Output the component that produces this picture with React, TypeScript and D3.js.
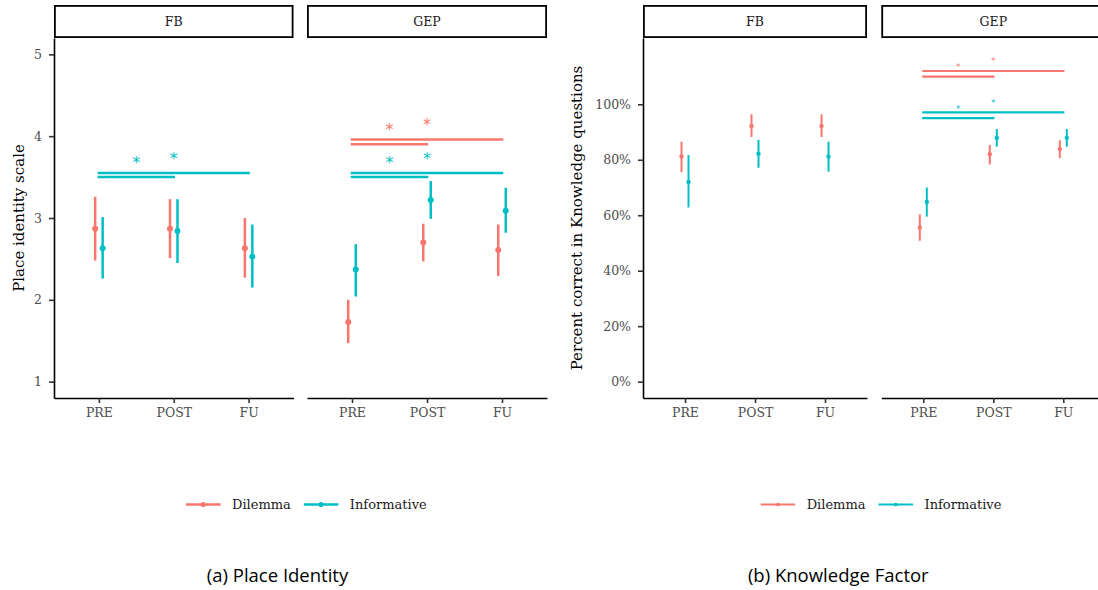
import React, { useEffect, useRef } from 'react';
import * as d3 from 'd3';

const timepoints = ['PRE', 'POST', 'FU'];
const facets = ['FB', 'GEP'];
const conditions = ['Dilemma', 'Informative'];
const conditionColors = ['#F8766D', '#00BFC4'];

// (a) Place identity -- mean and interval per timepoint
const pidTicks = [1, 2, 3, 4, 5];
const pidFbDilemmaMean = [2.87, 2.87, 2.63];
const pidFbDilemmaLow = [2.48, 2.51, 2.27];
const pidFbDilemmaHigh = [3.26, 3.23, 3.0];
const pidFbInformMean = [2.63, 2.84, 2.53];
const pidFbInformLow = [2.26, 2.45, 2.15];
const pidFbInformHigh = [3.01, 3.23, 2.92];
const pidGepDilemmaMean = [1.73, 2.7, 2.61];
const pidGepDilemmaLow = [1.47, 2.47, 2.29];
const pidGepDilemmaHigh = [2.0, 2.93, 2.92];
const pidGepInformMean = [2.37, 3.22, 3.09];
const pidGepInformLow = [2.04, 2.99, 2.82];
const pidGepInformHigh = [2.68, 3.45, 3.37];
// significance bars: facet, condition, from, to, y
const pidSignif = [
  ['FB', 'Informative', 'PRE', 'POST', 3.5],
  ['FB', 'Informative', 'PRE', 'FU', 3.55],
  ['GEP', 'Dilemma', 'PRE', 'POST', 3.9],
  ['GEP', 'Dilemma', 'PRE', 'FU', 3.96],
  ['GEP', 'Informative', 'PRE', 'POST', 3.5],
  ['GEP', 'Informative', 'PRE', 'FU', 3.55],
];

// (b) Knowledge factor -- share correct
const kfTicks = [0, 0.2, 0.4, 0.6, 0.8, 1];
const kfFbDilemmaMean = [0.812, 0.922, 0.922];
const kfFbDilemmaLow = [0.755, 0.882, 0.882];
const kfFbDilemmaHigh = [0.865, 0.964, 0.964];
const kfFbInformMean = [0.72, 0.822, 0.812];
const kfFbInformLow = [0.628, 0.771, 0.757];
const kfFbInformHigh = [0.817, 0.872, 0.865];
const kfGepDilemmaMean = [0.556, 0.82, 0.839];
const kfGepDilemmaLow = [0.508, 0.783, 0.806];
const kfGepDilemmaHigh = [0.603, 0.853, 0.87];
const kfGepInformMean = [0.648, 0.879, 0.879];
const kfGepInformLow = [0.595, 0.847, 0.847];
const kfGepInformHigh = [0.7, 0.911, 0.911];
const kfSignif = [
  ['GEP', 'Dilemma', 'PRE', 'POST', 1.1],
  ['GEP', 'Dilemma', 'PRE', 'FU', 1.12],
  ['GEP', 'Informative', 'PRE', 'POST', 0.95],
  ['GEP', 'Informative', 'PRE', 'FU', 0.971],
];

const serif = '"DejaVu Serif", serif';
const sans = '"DejaVu Sans", sans-serif';

const toRows = (facet, condition, mean, low, high) =>
  timepoints.map((t, i) => ({ facet, condition, time: t, mean: mean[i], low: low[i], high: high[i] }));

const pidRows = [
  ...toRows('FB', 'Dilemma', pidFbDilemmaMean, pidFbDilemmaLow, pidFbDilemmaHigh),
  ...toRows('FB', 'Informative', pidFbInformMean, pidFbInformLow, pidFbInformHigh),
  ...toRows('GEP', 'Dilemma', pidGepDilemmaMean, pidGepDilemmaLow, pidGepDilemmaHigh),
  ...toRows('GEP', 'Informative', pidGepInformMean, pidGepInformLow, pidGepInformHigh),
];
const kfRows = [
  ...toRows('FB', 'Dilemma', kfFbDilemmaMean, kfFbDilemmaLow, kfFbDilemmaHigh),
  ...toRows('FB', 'Informative', kfFbInformMean, kfFbInformLow, kfFbInformHigh),
  ...toRows('GEP', 'Dilemma', kfGepDilemmaMean, kfGepDilemmaLow, kfGepDilemmaHigh),
  ...toRows('GEP', 'Informative', kfGepInformMean, kfGepInformLow, kfGepInformHigh),
];

function drawFigure(svg, cfg) {
  const top = 38, bottom = 398;
  const color = d3.scaleOrdinal().domain(conditions).range(conditionColors);
  const y = d3.scaleLinear().domain(cfg.yDomain).range([bottom, top]);
  const g = svg.append('g');

  cfg.panels.forEach((p, pi) => {
    const x = d3.scalePoint().domain(timepoints).range([p.x0, p.x1]).padding(0.6);
    const dodge = d3.scaleOrdinal().domain(conditions).range([-0.05 * x.step(), 0.05 * x.step()]);

    // strip
    g.append('rect')
      .attr('x', p.x0 + 0.9).attr('y', 5.9)
      .attr('width', p.x1 - p.x0 - 1.8).attr('height', 31.2)
      .attr('fill', 'white').attr('stroke', 'black').attr('stroke-width', 1.8);
    g.append('text')
      .attr('x', (p.x0 + p.x1) / 2).attr('y', 26)
      .attr('text-anchor', 'middle')
      .style('font-family', serif).style('font-size', '12.5px').attr('fill', '#1a1a1a')
      .text(facets[pi]);

    // x axis
    const xa = g.append('g')
      .attr('transform', `translate(0,${bottom})`)
      .call(d3.axisBottom(x).tickSize(5).tickSizeOuter(0).tickPadding(5));
    xa.select('.domain').attr('stroke', 'black').attr('stroke-width', 1.6);
    xa.selectAll('.tick line').attr('stroke', '#333').attr('stroke-width', 1.6);
    xa.selectAll('.tick text').attr('fill', '#4d4d4d')
      .style('font-family', serif).style('font-size', '12.5px');

    if (pi === 0) {
      const ya = g.append('g')
        .attr('transform', `translate(${p.x0},0)`)
        .call(d3.axisLeft(y).tickValues(cfg.yTicks).tickFormat(cfg.yFormat).tickSize(5).tickSizeOuter(0).tickPadding(7));
      ya.select('.domain').attr('stroke', 'black').attr('stroke-width', 1.6);
      ya.selectAll('.tick line').attr('stroke', '#333').attr('stroke-width', 1.6);
      ya.selectAll('.tick text').attr('fill', '#4d4d4d')
        .style('font-family', serif).style('font-size', '12.5px');
    }

    // significance bars
    cfg.signif.filter(s => s[0] === facets[pi]).forEach(s => {
      const [, cond, from, to, yv] = s;
      const x0 = x(from), x1 = x(to);
      g.append('line')
        .attr('x1', x0).attr('x2', x1).attr('y1', y(yv)).attr('y2', y(yv))
        .attr('stroke', color(cond)).attr('stroke-width', cfg.barWidth).attr('stroke-linecap', 'square');
      g.append('text')
        .attr('x', (x0 + x1) / 2).attr('y', y(yv) - cfg.starGap)
        .attr('text-anchor', 'middle')
        .style('font-family', sans).style('font-size', `${cfg.starSize}px`)
        .attr('fill', color(cond))
        .text('*');
    });

    const rows = cfg.rows.filter(r => r.facet === facets[pi]);
    g.append('g').selectAll('line')
      .data(rows)
      .join('line')
      .attr('x1', d => x(d.time) + dodge(d.condition))
      .attr('x2', d => x(d.time) + dodge(d.condition))
      .attr('y1', d => y(d.low))
      .attr('y2', d => y(d.high))
      .attr('stroke', d => color(d.condition))
      .attr('stroke-width', cfg.lineWidth);
    g.append('g').selectAll('circle')
      .data(rows)
      .join('circle')
      .attr('cx', d => x(d.time) + dodge(d.condition))
      .attr('cy', d => y(d.mean))
      .attr('r', cfg.pointR)
      .attr('fill', d => color(d.condition));
  });

  // y title
  g.append('text')
    .attr('transform', `translate(${cfg.titleX},${(top + bottom) / 2}) rotate(-90)`)
    .attr('text-anchor', 'middle')
    .style('font-family', serif).style('font-size', '15px').attr('fill', 'black')
    .text(cfg.yTitle);

  // legend
  const lg = g.append('g');
  let cx = cfg.legendX;
  conditions.forEach(c => {
    lg.append('line')
      .attr('x1', cx).attr('x2', cx + 34.5).attr('y1', 504.5).attr('y2', 504.5)
      .attr('stroke', color(c)).attr('stroke-width', cfg.lineWidth);
    lg.append('circle').attr('cx', cx + 17.2).attr('cy', 504.5).attr('r', cfg.pointR * 0.85).attr('fill', color(c));
    const t = lg.append('text')
      .attr('x', cx + 46).attr('y', 509)
      .style('font-family', serif).style('font-size', '13px').attr('fill', '#1a1a1a')
      .text(c);
    cx += 46 + t.node().getComputedTextLength() + 13;
  });

  // caption
  g.append('text')
    .attr('x', cfg.captionX).attr('y', 582)
    .attr('text-anchor', 'middle')
    .style('font-family', '"Open Sans", sans-serif').style('font-size', '18.5px').attr('fill', 'black')
    .text(cfg.caption);
}

const App = () => {
  const ref = useRef(null);

  useEffect(() => {
    const svg = d3.select(ref.current);
    svg.selectAll('*').remove();
    svg.append('rect').attr('width', 1098).attr('height', 590).attr('fill', 'white');

    drawFigure(svg, {
      panels: [{ x0: 54, x1: 293.5 }, { x0: 307, x1: 547 }],
      yDomain: [0.8, 5.2],
      yTicks: pidTicks,
      yFormat: d3.format('d'),
      rows: pidRows,
      signif: pidSignif,
      yTitle: 'Place identity scale',
      titleX: 24,
      legendX: 186,
      caption: '(a) Place Identity',
      captionX: 277.5,
      lineWidth: 2.5,
      pointR: 3,
      barWidth: 2.5,
      starSize: 16,
      starGap: 9,
    });

    drawFigure(svg, {
      panels: [{ x0: 643, x1: 867 }, { x0: 881.3, x1: 1105.3 }],
      yDomain: [-0.059, 1.239],
      yTicks: kfTicks,
      yFormat: d3.format('.0%'),
      rows: kfRows,
      signif: kfSignif,
      yTitle: 'Percent correct in Knowledge questions',
      titleX: 582,
      legendX: 760.7,
      caption: '(b) Knowledge Factor',
      captionX: 838.3,
      lineWidth: 2,
      pointR: 2.2,
      barWidth: 2.2,
      starSize: 9,
      starGap: 6.6,
    });
  }, []);

  return (
    <svg ref={ref} width={1098} height={590}
      style={{ position: 'absolute', left: 0, top: 0, overflow: 'hidden' }} />
  );
};

export default App;
